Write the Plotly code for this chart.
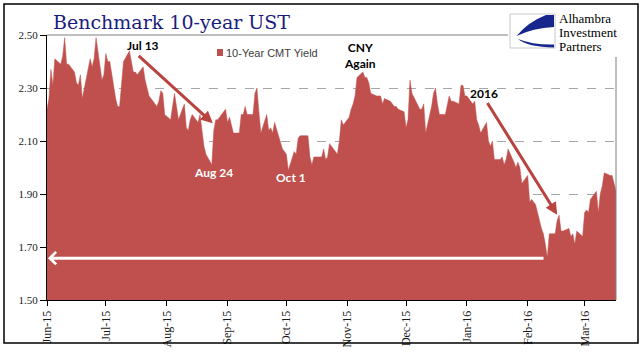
import plotly.graph_objects as go

# ---------------- data ----------------
dates = [
    "2015-06-01","2015-06-02","2015-06-03","2015-06-04","2015-06-05","2015-06-08","2015-06-09","2015-06-10",
    "2015-06-11","2015-06-12","2015-06-15","2015-06-16","2015-06-17","2015-06-18","2015-06-19","2015-06-22",
    "2015-06-23","2015-06-24","2015-06-25","2015-06-26","2015-06-29","2015-06-30",
    "2015-07-01","2015-07-02","2015-07-03","2015-07-06","2015-07-07","2015-07-08","2015-07-09","2015-07-10",
    "2015-07-13","2015-07-14","2015-07-15","2015-07-16","2015-07-17","2015-07-20","2015-07-21","2015-07-22",
    "2015-07-23","2015-07-24","2015-07-27","2015-07-28","2015-07-29","2015-07-30","2015-07-31",
    "2015-08-03","2015-08-04","2015-08-05","2015-08-06","2015-08-07","2015-08-10","2015-08-11","2015-08-12",
    "2015-08-13","2015-08-14","2015-08-17","2015-08-18","2015-08-19","2015-08-20","2015-08-21","2015-08-24",
    "2015-08-25","2015-08-26","2015-08-27","2015-08-28","2015-08-31",
    "2015-09-01","2015-09-02","2015-09-03","2015-09-04","2015-09-07","2015-09-08","2015-09-09","2015-09-10",
    "2015-09-11","2015-09-14","2015-09-15","2015-09-16","2015-09-17","2015-09-18","2015-09-21","2015-09-22",
    "2015-09-23","2015-09-24","2015-09-25","2015-09-28","2015-09-29","2015-09-30",
    "2015-10-01","2015-10-02","2015-10-05","2015-10-06","2015-10-07","2015-10-08","2015-10-09","2015-10-12",
    "2015-10-13","2015-10-14","2015-10-15","2015-10-16","2015-10-19","2015-10-20","2015-10-21","2015-10-22",
    "2015-10-23","2015-10-26","2015-10-27","2015-10-28","2015-10-29","2015-10-30",
    "2015-11-02","2015-11-03","2015-11-04","2015-11-05","2015-11-06","2015-11-09","2015-11-10","2015-11-11",
    "2015-11-12","2015-11-13","2015-11-16","2015-11-17","2015-11-18","2015-11-19","2015-11-20","2015-11-23",
    "2015-11-24","2015-11-25","2015-11-26","2015-11-27","2015-11-30",
    "2015-12-01","2015-12-02","2015-12-03","2015-12-04","2015-12-07","2015-12-08","2015-12-09","2015-12-10",
    "2015-12-11","2015-12-14","2015-12-15","2015-12-16","2015-12-17","2015-12-18","2015-12-21","2015-12-22",
    "2015-12-23","2015-12-24","2015-12-25","2015-12-28","2015-12-29","2015-12-30","2015-12-31",
    "2016-01-01","2016-01-04","2016-01-05","2016-01-06","2016-01-07","2016-01-08","2016-01-11","2016-01-12",
    "2016-01-13","2016-01-14","2016-01-15","2016-01-18","2016-01-19","2016-01-20","2016-01-21","2016-01-22",
    "2016-01-25","2016-01-26","2016-01-27","2016-01-28","2016-01-29",
    "2016-02-01","2016-02-02","2016-02-03","2016-02-04","2016-02-05","2016-02-08","2016-02-09","2016-02-10",
    "2016-02-11","2016-02-12","2016-02-15","2016-02-16","2016-02-17","2016-02-18","2016-02-19","2016-02-22",
    "2016-02-23","2016-02-24","2016-02-25","2016-02-26","2016-02-29",
    "2016-03-01","2016-03-02","2016-03-03","2016-03-04","2016-03-07","2016-03-08","2016-03-09","2016-03-10",
    "2016-03-11","2016-03-14","2016-03-15","2016-03-16","2016-03-17",
]
yields = [
    2.22, 2.26, 2.37, 2.31, 2.41, 2.39, 2.42, 2.49,
    2.39, 2.39, 2.36, 2.32, 2.31, 2.35, 2.26, 2.37,
    2.41, 2.38, 2.41, 2.49, 2.33, 2.35,
    2.43, 2.40, 2.40, 2.26, 2.23, 2.23, 2.32, 2.40,
    2.44, 2.40, 2.36, 2.36, 2.35, 2.38, 2.33, 2.30,
    2.27, 2.26, 2.23, 2.25, 2.29, 2.28, 2.20,
    2.18, 2.23, 2.28, 2.23, 2.18, 2.24, 2.15, 2.14,
    2.18, 2.20, 2.17, 2.20, 2.13, 2.08, 2.05, 2.01,
    2.14, 2.18, 2.18, 2.19, 2.22,
    2.17, 2.19, 2.16, 2.13, 2.13, 2.20, 2.20, 2.23,
    2.20, 2.20, 2.28, 2.30, 2.21, 2.13, 2.20, 2.14,
    2.15, 2.13, 2.17, 2.10, 2.07, 2.06,
    2.05, 1.99, 2.06, 2.05, 2.11, 2.12, 2.12, 2.12,
    2.04, 2.01, 2.04, 2.04, 2.04, 2.07, 2.03, 2.04,
    2.09, 2.06, 2.05, 2.10, 2.18, 2.16,
    2.19, 2.22, 2.24, 2.27, 2.34, 2.36, 2.34, 2.34,
    2.32, 2.28, 2.27, 2.27, 2.27, 2.24, 2.26, 2.25,
    2.24, 2.23, 2.23, 2.22, 2.21,
    2.15, 2.18, 2.33, 2.28, 2.23, 2.22, 2.22, 2.24,
    2.13, 2.23, 2.28, 2.30, 2.24, 2.20, 2.20, 2.24,
    2.27, 2.25, 2.25, 2.24, 2.31, 2.31, 2.27,
    2.27, 2.24, 2.25, 2.18, 2.16, 2.13, 2.17, 2.10,
    2.08, 2.10, 2.03, 2.03, 2.04, 2.01, 2.03, 2.07,
    2.02, 2.00, 2.02, 2.00, 1.94,
    1.97, 1.87, 1.88, 1.87, 1.86, 1.77, 1.75, 1.71,
    1.66, 1.75, 1.75, 1.80, 1.82, 1.76, 1.76, 1.77,
    1.74, 1.75, 1.71, 1.76, 1.74,
    1.83, 1.84, 1.83, 1.88, 1.91, 1.83, 1.90, 1.93,
    1.98, 1.97, 1.97, 1.94, 1.91,
]
series_name = "10-Year CMT Yield"
title_text = "Benchmark 10-year UST"
logo_lines = ["Alhambra", "Investment", "Partners"]
y_range = [1.50, 2.50]
x_range = ["2015-06-01", "2016-03-17"]

# ---------------- layout helpers (pixel -> paper) ----------------
W, H = 644, 361
L, R, T, B = 47, 616, 35, 300


def px(x):
    return (x - L) / (R - L)


def py(y):
    return (B - y) / (B - T)


def P(x, y):
    return f"{px(x):.5f},{py(y):.5f}"


RED = "#C0504D"
ARROW_RED = "#B8433F"
BLUE = "#16268C"
serif = "Liberation Serif"

fig = go.Figure()
fig.add_trace(go.Scatter(
    x=dates, y=yields, name=series_name, mode="lines",
    line=dict(color=RED, width=0.5), fill="tozeroy", fillcolor=RED,
    showlegend=False, hoverinfo="x+y",
))

fig.update_layout(
    width=W, height=H,
    margin=dict(l=L, r=W - R, t=T, b=H - B, pad=0),
    paper_bgcolor="white", plot_bgcolor="white",
    showlegend=False,
    xaxis=dict(
        type="date", range=x_range, dtick="M1", tick0="2015-06-01",
        tickformat="%b-%y", tickangle=-90,
        tickfont=dict(family=serif, size=12, color="#1a1a1a"),
        ticks="outside", ticklen=5, tickcolor="black", tickwidth=1,
        showline=True, linecolor="black", linewidth=1,
        showgrid=False, zeroline=False,
    ),
    yaxis=dict(
        range=y_range, dtick=0.2, tick0=1.5, tickformat=".2f",
        tickfont=dict(family=serif, size=11, color="#1a1a1a"),
        ticks="outside", ticklen=6, tickcolor="black", tickwidth=1,
        showline=True, linecolor="black", linewidth=1,
        showgrid=True, gridcolor="#A6A6A6", griddash="dash", gridwidth=1,
        zeroline=False,
    ),
)

shapes = []
# white cover behind logo area
shapes.append(dict(type="rect", xref="paper", yref="paper", layer="above",
                   x0=px(508), x1=px(634), y0=py(57), y1=py(7),
                   fillcolor="white", line=dict(width=0)))
# plot frame top & right (gray)
shapes.append(dict(type="line", xref="paper", yref="paper", layer="above",
                   x0=px(47), x1=px(508), y0=1, y1=1, line=dict(color="#7F7F7F", width=1)))
shapes.append(dict(type="line", xref="paper", yref="paper", layer="above",
                   x0=1, x1=1, y0=0, y1=py(57), line=dict(color="#7F7F7F", width=1)))
# outer border
shapes.append(dict(type="rect", xref="paper", yref="paper", layer="above",
                   x0=px(4), x1=px(638), y0=py(343), y1=py(4),
                   fillcolor="rgba(0,0,0,0)", line=dict(color="black", width=1.5)))
# logo box
shapes.append(dict(type="rect", xref="paper", yref="paper", layer="above",
                   x0=px(510), x1=px(555), y0=py(48), y1=py(14),
                   fillcolor="white", line=dict(color="#C8C8C8", width=1)))
upper = (f"M{P(554,15)} L{P(546,15)} Q{P(528,22)} {P(516.5,36)} "
         f"Q{P(533,28)} {P(554,27)} Z")
lower = (f"M{P(518,39)} Q{P(528,47)} {P(554,47.5)} L{P(554,44.5)} "
         f"Q{P(533,45)} {P(518,39)} Z")
for p in (upper, lower):
    shapes.append(dict(type="path", xref="paper", yref="paper", layer="above",
                       path=p, fillcolor=BLUE, line=dict(width=0)))
# legend swatch
shapes.append(dict(type="rect", xref="paper", yref="paper", layer="above",
                   x0=px(217), x1=px(223), y0=py(56), y1=py(49),
                   fillcolor=RED, line=dict(width=0)))
fig.update_layout(shapes=shapes)

ann = []
ann.append(dict(xref="paper", yref="paper", x=px(51), y=py(22), xanchor="left", yanchor="middle",
                text=title_text, showarrow=False,
                font=dict(family="DejaVu Serif", size=19, color="#1B1B7E")))
for txt, yy in zip(logo_lines, (18, 32, 46)):
    ann.append(dict(xref="paper", yref="paper", x=px(557), y=py(yy), xanchor="left", yanchor="middle",
                    text=txt, showarrow=False,
                    font=dict(family=serif, size=13, color="black")))
ann.append(dict(xref="paper", yref="paper", x=px(224), y=py(52.5), xanchor="left", yanchor="middle",
                text=series_name, showarrow=False,
                font=dict(family="Liberation Sans", size=11, color="#404040")))
lab = dict(family="Lato", size=12, color="black", weight="bold")
labw = dict(family="Lato", size=12, color="white", weight="bold")
for txt, xx, yy, f in (("Jul 13", 143, 45, lab), ("CNY<br>Again", 360, 55, lab),
                       ("2016", 484, 94, lab), ("Aug 24", 213.5, 172, labw),
                       ("Oct 1", 291, 177, labw)):
    ann.append(dict(xref="paper", yref="paper", x=px(xx), y=py(yy), xanchor="center", yanchor="middle",
                    text=txt, showarrow=False, font=f))
# arrows (data coordinates)
arrow_specs = [
    ("2015-08-24 12:00", 2.167, "2015-07-17", 2.426, ARROW_RED, 2, 0.8),
    ("2016-02-16", 1.822, "2016-01-11", 2.249, ARROW_RED, 2, 0.8),
    ("2015-06-01 12:00", 1.658, "2016-02-09 20:00", 1.658, "white", 4, 0.8),
]
for x, y, ax, ay, c, head, size in arrow_specs:
    ann.append(dict(xref="x", yref="y", axref="x", ayref="y", x=x, y=y, ax=ax, ay=ay,
                    text="", showarrow=True, arrowhead=head, arrowsize=size,
                    arrowwidth=3, arrowcolor=c, standoff=0, startstandoff=0))
fig.update_layout(annotations=ann)

fig.write_html(
    "out.html",
    config={"displayModeBar": False},
    post_script="document.body.style.margin='0';document.body.style.overflow='hidden';",
)
